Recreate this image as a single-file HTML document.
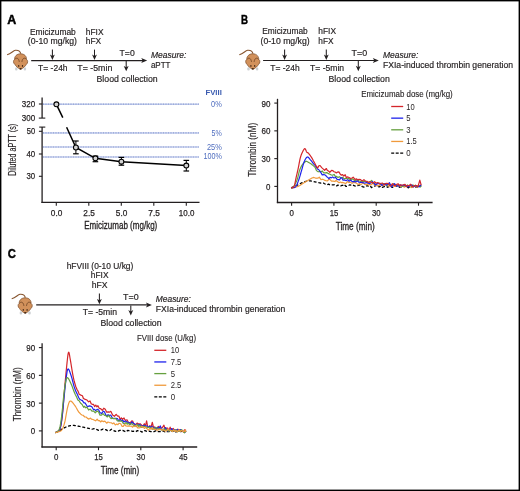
<!DOCTYPE html>
<html><head><meta charset="utf-8"><style>
html,body{margin:0;padding:0;background:#fff;}
body{width:520px;height:491px;overflow:hidden;font-family:"Liberation Sans", sans-serif;}
svg{display:block;will-change:transform;}
</style></head><body>
<svg width="520" height="491" viewBox="0 0 520 491" font-family='"Liberation Sans", sans-serif'>
<rect x="0" y="0" width="520" height="491" fill="#fff"/>
<text x="7.30" y="24.10" font-size="12.4" textLength="9.00" lengthAdjust="spacingAndGlyphs" font-weight="bold" fill="#000" stroke="#000" stroke-width="0.45">A</text>
<g transform="translate(20.40,61.30) scale(1.0)">
<path d="M0.3,-7.6 C0,-9.5 -2,-11.2 -5,-11 C-7.5,-10.6 -9,-7.6 -13.3,-6.6" fill="none" stroke="#87552f" stroke-width="1.1"/>
<ellipse cx="-4.1" cy="7.6" rx="1.3" ry="1.7" fill="#cdd0d2"/>
<ellipse cx="4.5" cy="7.6" rx="1.3" ry="1.7" fill="#cdd0d2"/>
<path d="M0.2,-7.5 C4.3,-7.5 6.3,-4.6 6.1,-1.9 C7.6,-1.2 7.7,1.9 6.0,3.0 C5.0,4.8 2.8,7.0 0.2,8.1 C-2.4,7.0 -4.6,4.8 -5.6,3.0 C-7.3,1.9 -7.3,-1.2 -5.8,-1.9 C-6.0,-4.6 -3.9,-7.5 0.2,-7.5 Z" fill="#d2915b" stroke="#7e4f2c" stroke-width="0.75"/>
<path d="M-5.6,-2.0 C-4.0,-4.0 -1.6,-3.4 -1.1,0.6" fill="none" stroke="#6a4022" stroke-width="0.8"/>
<path d="M6.0,-2.0 C4.4,-4.0 2.0,-3.4 1.5,0.6" fill="none" stroke="#6a4022" stroke-width="0.8"/>
<ellipse cx="-1.7" cy="4.6" rx="0.65" ry="0.85" fill="#3b2413"/>
<ellipse cx="2.1" cy="4.6" rx="0.65" ry="0.85" fill="#3b2413"/>
<ellipse cx="0.2" cy="7.5" rx="1.1" ry="0.7" fill="#3d2616"/>
</g>
<text x="29.90" y="34.50" font-size="8.9" textLength="45.90" lengthAdjust="spacingAndGlyphs" fill="#231f20" stroke="#231f20" stroke-width="0.18">Emicizumab</text>
<text x="27.80" y="44.20" font-size="8.9" textLength="49.20" lengthAdjust="spacingAndGlyphs" fill="#231f20" stroke="#231f20" stroke-width="0.18">(0-10 mg/kg)</text>
<text x="85.80" y="34.50" font-size="8.9" textLength="17.70" lengthAdjust="spacingAndGlyphs" fill="#231f20" stroke="#231f20" stroke-width="0.18">hFIX</text>
<text x="85.80" y="44.20" font-size="8.9" textLength="15.40" lengthAdjust="spacingAndGlyphs" fill="#231f20" stroke="#231f20" stroke-width="0.18">hFX</text>
<line x1="31.20" y1="60.60" x2="143.20" y2="60.60" stroke="#231f20" stroke-width="1.2"/>
<path d="M141.20,58.10 L147.20,60.60 L141.20,63.10 L142.70,60.60 Z" fill="#231f20"/>
<line x1="52.40" y1="49.60" x2="52.40" y2="56.50" stroke="#231f20" stroke-width="1.05"/>
<path d="M49.95,54.60 L52.40,60.00 L54.85,54.60 L52.40,56.00 Z" fill="#231f20"/>
<line x1="94.50" y1="49.60" x2="94.50" y2="56.50" stroke="#231f20" stroke-width="1.05"/>
<path d="M92.05,54.60 L94.50,60.00 L96.95,54.60 L94.50,56.00 Z" fill="#231f20"/>
<line x1="126.20" y1="61.00" x2="126.20" y2="67.80" stroke="#231f20" stroke-width="1.05"/>
<path d="M123.75,65.90 L126.20,71.30 L128.65,65.90 L126.20,67.30 Z" fill="#231f20"/>
<text x="38.10" y="70.80" font-size="8.9" textLength="29.50" lengthAdjust="spacingAndGlyphs" fill="#231f20" stroke="#231f20" stroke-width="0.18">T= -24h</text>
<text x="77.30" y="70.60" font-size="8.9" textLength="35.00" lengthAdjust="spacingAndGlyphs" fill="#231f20" stroke="#231f20" stroke-width="0.18">T= -5min</text>
<text x="119.60" y="55.70" font-size="8.9" textLength="15.10" lengthAdjust="spacingAndGlyphs" fill="#231f20" stroke="#231f20" stroke-width="0.18">T=0</text>
<text x="96.50" y="81.50" font-size="8.9" textLength="61.20" lengthAdjust="spacingAndGlyphs" fill="#231f20" stroke="#231f20" stroke-width="0.18">Blood collection</text>
<text x="150.90" y="58.10" font-size="8.9" textLength="35.40" lengthAdjust="spacingAndGlyphs" font-style="italic" fill="#231f20" stroke="#231f20" stroke-width="0.18">Measure:</text>
<text x="150.90" y="67.90" font-size="8.9" textLength="19.60" lengthAdjust="spacingAndGlyphs" fill="#231f20" stroke="#231f20" stroke-width="0.18">aPTT</text>
<text x="241.00" y="24.20" font-size="12.9" textLength="7.00" lengthAdjust="spacingAndGlyphs" font-weight="bold" fill="#000" stroke="#000" stroke-width="0.45">B</text>
<g transform="translate(252.60,61.30) scale(1.0)">
<path d="M0.3,-7.6 C0,-9.5 -2,-11.2 -5,-11 C-7.5,-10.6 -9,-7.6 -13.3,-6.6" fill="none" stroke="#87552f" stroke-width="1.1"/>
<ellipse cx="-4.1" cy="7.6" rx="1.3" ry="1.7" fill="#cdd0d2"/>
<ellipse cx="4.5" cy="7.6" rx="1.3" ry="1.7" fill="#cdd0d2"/>
<path d="M0.2,-7.5 C4.3,-7.5 6.3,-4.6 6.1,-1.9 C7.6,-1.2 7.7,1.9 6.0,3.0 C5.0,4.8 2.8,7.0 0.2,8.1 C-2.4,7.0 -4.6,4.8 -5.6,3.0 C-7.3,1.9 -7.3,-1.2 -5.8,-1.9 C-6.0,-4.6 -3.9,-7.5 0.2,-7.5 Z" fill="#d2915b" stroke="#7e4f2c" stroke-width="0.75"/>
<path d="M-5.6,-2.0 C-4.0,-4.0 -1.6,-3.4 -1.1,0.6" fill="none" stroke="#6a4022" stroke-width="0.8"/>
<path d="M6.0,-2.0 C4.4,-4.0 2.0,-3.4 1.5,0.6" fill="none" stroke="#6a4022" stroke-width="0.8"/>
<ellipse cx="-1.7" cy="4.6" rx="0.65" ry="0.85" fill="#3b2413"/>
<ellipse cx="2.1" cy="4.6" rx="0.65" ry="0.85" fill="#3b2413"/>
<ellipse cx="0.2" cy="7.5" rx="1.1" ry="0.7" fill="#3d2616"/>
</g>
<text x="262.30" y="34.30" font-size="8.9" textLength="45.40" lengthAdjust="spacingAndGlyphs" fill="#231f20" stroke="#231f20" stroke-width="0.18">Emicizumab</text>
<text x="260.50" y="44.00" font-size="8.9" textLength="49.10" lengthAdjust="spacingAndGlyphs" fill="#231f20" stroke="#231f20" stroke-width="0.18">(0-10 mg/kg)</text>
<text x="318.30" y="34.40" font-size="8.9" textLength="17.70" lengthAdjust="spacingAndGlyphs" fill="#231f20" stroke="#231f20" stroke-width="0.18">hFIX</text>
<text x="318.30" y="44.30" font-size="8.9" textLength="15.20" lengthAdjust="spacingAndGlyphs" fill="#231f20" stroke="#231f20" stroke-width="0.18">hFX</text>
<line x1="263.10" y1="60.50" x2="374.80" y2="60.50" stroke="#231f20" stroke-width="1.2"/>
<path d="M372.80,58.00 L378.80,60.50 L372.80,63.00 L374.30,60.50 Z" fill="#231f20"/>
<line x1="284.60" y1="49.60" x2="284.60" y2="56.50" stroke="#231f20" stroke-width="1.05"/>
<path d="M282.15,54.60 L284.60,60.00 L287.05,54.60 L284.60,56.00 Z" fill="#231f20"/>
<line x1="326.30" y1="49.60" x2="326.30" y2="56.50" stroke="#231f20" stroke-width="1.05"/>
<path d="M323.85,54.60 L326.30,60.00 L328.75,54.60 L326.30,56.00 Z" fill="#231f20"/>
<line x1="358.30" y1="61.00" x2="358.30" y2="67.70" stroke="#231f20" stroke-width="1.05"/>
<path d="M355.85,65.80 L358.30,71.20 L360.75,65.80 L358.30,67.20 Z" fill="#231f20"/>
<text x="270.30" y="71.00" font-size="8.9" textLength="29.40" lengthAdjust="spacingAndGlyphs" fill="#231f20" stroke="#231f20" stroke-width="0.18">T= -24h</text>
<text x="310.00" y="70.90" font-size="8.9" textLength="34.10" lengthAdjust="spacingAndGlyphs" fill="#231f20" stroke="#231f20" stroke-width="0.18">T= -5min</text>
<text x="351.50" y="55.60" font-size="8.9" textLength="15.60" lengthAdjust="spacingAndGlyphs" fill="#231f20" stroke="#231f20" stroke-width="0.18">T=0</text>
<text x="328.50" y="81.70" font-size="8.9" textLength="61.30" lengthAdjust="spacingAndGlyphs" fill="#231f20" stroke="#231f20" stroke-width="0.18">Blood collection</text>
<text x="383.00" y="57.60" font-size="8.9" textLength="35.40" lengthAdjust="spacingAndGlyphs" font-style="italic" fill="#231f20" stroke="#231f20" stroke-width="0.18">Measure:</text>
<text x="383.00" y="68.00" font-size="8.9" textLength="130.00" lengthAdjust="spacingAndGlyphs" fill="#231f20" stroke="#231f20" stroke-width="0.18">FXIa-induced thrombin generation</text>
<text x="7.70" y="257.90" font-size="12.9" textLength="8.10" lengthAdjust="spacingAndGlyphs" font-weight="bold" fill="#000" stroke="#000" stroke-width="0.45">C</text>
<g transform="translate(25.00,305.30) scale(1.0)">
<path d="M0.3,-7.6 C0,-9.5 -2,-11.2 -5,-11 C-7.5,-10.6 -9,-7.6 -13.3,-6.6" fill="none" stroke="#87552f" stroke-width="1.1"/>
<ellipse cx="-4.1" cy="7.6" rx="1.3" ry="1.7" fill="#cdd0d2"/>
<ellipse cx="4.5" cy="7.6" rx="1.3" ry="1.7" fill="#cdd0d2"/>
<path d="M0.2,-7.5 C4.3,-7.5 6.3,-4.6 6.1,-1.9 C7.6,-1.2 7.7,1.9 6.0,3.0 C5.0,4.8 2.8,7.0 0.2,8.1 C-2.4,7.0 -4.6,4.8 -5.6,3.0 C-7.3,1.9 -7.3,-1.2 -5.8,-1.9 C-6.0,-4.6 -3.9,-7.5 0.2,-7.5 Z" fill="#d2915b" stroke="#7e4f2c" stroke-width="0.75"/>
<path d="M-5.6,-2.0 C-4.0,-4.0 -1.6,-3.4 -1.1,0.6" fill="none" stroke="#6a4022" stroke-width="0.8"/>
<path d="M6.0,-2.0 C4.4,-4.0 2.0,-3.4 1.5,0.6" fill="none" stroke="#6a4022" stroke-width="0.8"/>
<ellipse cx="-1.7" cy="4.6" rx="0.65" ry="0.85" fill="#3b2413"/>
<ellipse cx="2.1" cy="4.6" rx="0.65" ry="0.85" fill="#3b2413"/>
<ellipse cx="0.2" cy="7.5" rx="1.1" ry="0.7" fill="#3d2616"/>
</g>
<text x="66.70" y="268.80" font-size="8.9" textLength="66.60" lengthAdjust="spacingAndGlyphs" fill="#231f20" stroke="#231f20" stroke-width="0.18">hFVIII (0-10 U/kg)</text>
<text x="90.80" y="278.40" font-size="8.9" textLength="17.70" lengthAdjust="spacingAndGlyphs" fill="#231f20" stroke="#231f20" stroke-width="0.18">hFIX</text>
<text x="91.70" y="288.20" font-size="8.9" textLength="15.80" lengthAdjust="spacingAndGlyphs" fill="#231f20" stroke="#231f20" stroke-width="0.18">hFX</text>
<line x1="36.20" y1="304.90" x2="147.90" y2="304.90" stroke="#231f20" stroke-width="1.2"/>
<path d="M145.90,302.40 L151.90,304.90 L145.90,307.40 L147.40,304.90 Z" fill="#231f20"/>
<line x1="99.40" y1="293.50" x2="99.40" y2="300.80" stroke="#231f20" stroke-width="1.05"/>
<path d="M96.95,298.90 L99.40,304.30 L101.85,298.90 L99.40,300.30 Z" fill="#231f20"/>
<line x1="130.80" y1="305.50" x2="130.80" y2="312.00" stroke="#231f20" stroke-width="1.05"/>
<path d="M128.35,310.10 L130.80,315.50 L133.25,310.10 L130.80,311.50 Z" fill="#231f20"/>
<text x="123.10" y="300.10" font-size="8.9" textLength="15.60" lengthAdjust="spacingAndGlyphs" fill="#231f20" stroke="#231f20" stroke-width="0.18">T=0</text>
<text x="82.70" y="315.00" font-size="8.9" textLength="34.30" lengthAdjust="spacingAndGlyphs" fill="#231f20" stroke="#231f20" stroke-width="0.18">T= -5min</text>
<text x="100.40" y="326.10" font-size="8.9" textLength="61.20" lengthAdjust="spacingAndGlyphs" fill="#231f20" stroke="#231f20" stroke-width="0.18">Blood collection</text>
<text x="155.80" y="302.30" font-size="8.9" textLength="35.00" lengthAdjust="spacingAndGlyphs" font-style="italic" fill="#231f20" stroke="#231f20" stroke-width="0.18">Measure:</text>
<text x="155.80" y="312.30" font-size="8.9" textLength="129.60" lengthAdjust="spacingAndGlyphs" fill="#231f20" stroke="#231f20" stroke-width="0.18">FXIa-induced thrombin generation</text>
<line x1="42.90" y1="104.20" x2="198.90" y2="104.20" stroke="#c3cdec" stroke-width="1.5"/>
<line x1="42.90" y1="104.20" x2="198.90" y2="104.20" stroke="#8fa1d6" stroke-width="1.2" stroke-dasharray="1.2 1.3"/>
<line x1="42.90" y1="132.90" x2="198.90" y2="132.90" stroke="#c3cdec" stroke-width="1.5"/>
<line x1="42.90" y1="132.90" x2="198.90" y2="132.90" stroke="#8fa1d6" stroke-width="1.2" stroke-dasharray="1.2 1.3"/>
<line x1="42.90" y1="147.00" x2="198.90" y2="147.00" stroke="#c3cdec" stroke-width="1.5"/>
<line x1="42.90" y1="147.00" x2="198.90" y2="147.00" stroke="#8fa1d6" stroke-width="1.2" stroke-dasharray="1.2 1.3"/>
<line x1="42.90" y1="157.00" x2="198.90" y2="157.00" stroke="#c3cdec" stroke-width="1.5"/>
<line x1="42.90" y1="157.00" x2="198.90" y2="157.00" stroke="#8fa1d6" stroke-width="1.2" stroke-dasharray="1.2 1.3"/>
<line x1="42.10" y1="97.60" x2="42.10" y2="118.10" stroke="#231f20" stroke-width="1.3"/>
<line x1="42.10" y1="127.10" x2="42.10" y2="202.90" stroke="#231f20" stroke-width="1.3"/>
<line x1="38.80" y1="118.10" x2="45.30" y2="118.10" stroke="#231f20" stroke-width="1.1"/>
<line x1="39.20" y1="127.10" x2="45.30" y2="127.10" stroke="#231f20" stroke-width="1.1"/>
<line x1="38.90" y1="104.00" x2="42.10" y2="104.00" stroke="#231f20" stroke-width="1.1"/>
<line x1="38.90" y1="131.30" x2="42.10" y2="131.30" stroke="#231f20" stroke-width="1.1"/>
<line x1="38.90" y1="154.00" x2="42.10" y2="154.00" stroke="#231f20" stroke-width="1.1"/>
<line x1="38.90" y1="176.30" x2="42.10" y2="176.30" stroke="#231f20" stroke-width="1.1"/>
<text x="35.20" y="106.70" font-size="9.4" textLength="13.40" lengthAdjust="spacingAndGlyphs" text-anchor="end" fill="#231f20" stroke="#231f20" stroke-width="0.25">320</text>
<text x="35.20" y="120.60" font-size="9.4" textLength="13.40" lengthAdjust="spacingAndGlyphs" text-anchor="end" fill="#231f20" stroke="#231f20" stroke-width="0.25">300</text>
<text x="35.20" y="134.10" font-size="9.4" textLength="8.40" lengthAdjust="spacingAndGlyphs" text-anchor="end" fill="#231f20" stroke="#231f20" stroke-width="0.25">50</text>
<text x="35.20" y="156.80" font-size="9.4" textLength="8.80" lengthAdjust="spacingAndGlyphs" text-anchor="end" fill="#231f20" stroke="#231f20" stroke-width="0.25">40</text>
<text x="35.20" y="179.10" font-size="9.4" textLength="8.70" lengthAdjust="spacingAndGlyphs" text-anchor="end" fill="#231f20" stroke="#231f20" stroke-width="0.25">30</text>
<line x1="41.45" y1="202.30" x2="199.50" y2="202.30" stroke="#231f20" stroke-width="1.3"/>
<line x1="56.30" y1="202.30" x2="56.30" y2="205.70" stroke="#231f20" stroke-width="1.1"/>
<text x="56.60" y="215.80" font-size="9.4" textLength="11.50" lengthAdjust="spacingAndGlyphs" text-anchor="middle" fill="#231f20" stroke="#231f20" stroke-width="0.25">0.0</text>
<line x1="88.80" y1="202.30" x2="88.80" y2="205.70" stroke="#231f20" stroke-width="1.1"/>
<text x="89.10" y="215.80" font-size="9.4" textLength="11.50" lengthAdjust="spacingAndGlyphs" text-anchor="middle" fill="#231f20" stroke="#231f20" stroke-width="0.25">2.5</text>
<line x1="121.30" y1="202.30" x2="121.30" y2="205.70" stroke="#231f20" stroke-width="1.1"/>
<text x="121.60" y="215.80" font-size="9.4" textLength="11.50" lengthAdjust="spacingAndGlyphs" text-anchor="middle" fill="#231f20" stroke="#231f20" stroke-width="0.25">5.0</text>
<line x1="153.80" y1="202.30" x2="153.80" y2="205.70" stroke="#231f20" stroke-width="1.1"/>
<text x="154.10" y="215.80" font-size="9.4" textLength="11.50" lengthAdjust="spacingAndGlyphs" text-anchor="middle" fill="#231f20" stroke="#231f20" stroke-width="0.25">7.5</text>
<line x1="186.30" y1="202.30" x2="186.30" y2="205.70" stroke="#231f20" stroke-width="1.1"/>
<text x="186.60" y="215.80" font-size="9.4" textLength="15.50" lengthAdjust="spacingAndGlyphs" text-anchor="middle" fill="#231f20" stroke="#231f20" stroke-width="0.25">10.0</text>
<text transform="translate(84.20,229.20)" font-size="10.3" textLength="73.10" lengthAdjust="spacingAndGlyphs" fill="#231f20" stroke="#231f20" stroke-width="0.3">Emicizumab (mg/kg)</text>
<text transform="translate(16.20,175.80) rotate(-90)" font-size="10.3" textLength="52.00" lengthAdjust="spacingAndGlyphs" fill="#231f20" stroke="#231f20" stroke-width="0.15">Diluted aPTT (s)</text>
<text x="221.80" y="94.50" font-size="8.1" textLength="16.30" lengthAdjust="spacingAndGlyphs" font-weight="bold" text-anchor="end" fill="#3a5bb0">FVIII</text>
<text x="221.80" y="106.80" font-size="8.7" textLength="10.70" lengthAdjust="spacingAndGlyphs" text-anchor="end" fill="#4f6dbf">0%</text>
<text x="221.80" y="135.90" font-size="8.7" textLength="10.20" lengthAdjust="spacingAndGlyphs" text-anchor="end" fill="#4f6dbf">5%</text>
<text x="221.80" y="149.90" font-size="8.7" textLength="14.80" lengthAdjust="spacingAndGlyphs" text-anchor="end" fill="#4f6dbf">25%</text>
<text x="221.80" y="159.30" font-size="8.7" textLength="18.40" lengthAdjust="spacingAndGlyphs" text-anchor="end" fill="#4f6dbf">100%</text>
<path d="M56.4,104.3 L62.8,117.6 M66.6,127.2 L75.9,147.5 L95.4,158.3 L121.4,161.7 L186.3,165.6" fill="none" stroke="#000" stroke-width="1.5"/>
<line x1="75.90" y1="141.00" x2="75.90" y2="153.80" stroke="#000" stroke-width="1.0"/>
<line x1="73.10" y1="141.00" x2="78.70" y2="141.00" stroke="#000" stroke-width="1.2"/>
<line x1="73.10" y1="153.80" x2="78.70" y2="153.80" stroke="#000" stroke-width="1.2"/>
<line x1="95.40" y1="156.10" x2="95.40" y2="161.70" stroke="#000" stroke-width="1.0"/>
<line x1="92.60" y1="156.10" x2="98.20" y2="156.10" stroke="#000" stroke-width="1.2"/>
<line x1="92.60" y1="161.70" x2="98.20" y2="161.70" stroke="#000" stroke-width="1.2"/>
<line x1="121.40" y1="157.40" x2="121.40" y2="165.20" stroke="#000" stroke-width="1.0"/>
<line x1="118.60" y1="157.40" x2="124.20" y2="157.40" stroke="#000" stroke-width="1.2"/>
<line x1="118.60" y1="165.20" x2="124.20" y2="165.20" stroke="#000" stroke-width="1.2"/>
<line x1="186.30" y1="160.40" x2="186.30" y2="171.00" stroke="#000" stroke-width="1.0"/>
<line x1="183.50" y1="160.40" x2="189.10" y2="160.40" stroke="#000" stroke-width="1.2"/>
<line x1="183.50" y1="171.00" x2="189.10" y2="171.00" stroke="#000" stroke-width="1.2"/>
<circle cx="56.4" cy="104.3" r="2.45" fill="#d2d2d2" stroke="#000" stroke-width="1.1"/>
<circle cx="75.9" cy="147.5" r="2.45" fill="#d2d2d2" stroke="#000" stroke-width="1.1"/>
<circle cx="95.4" cy="158.3" r="2.45" fill="#d2d2d2" stroke="#000" stroke-width="1.1"/>
<circle cx="121.4" cy="161.7" r="2.45" fill="#d2d2d2" stroke="#000" stroke-width="1.1"/>
<circle cx="186.3" cy="165.6" r="2.45" fill="#d2d2d2" stroke="#000" stroke-width="1.1"/>
<line x1="277.50" y1="98.80" x2="277.50" y2="203.10" stroke="#231f20" stroke-width="1.3"/>
<line x1="276.85" y1="202.50" x2="432.60" y2="202.50" stroke="#231f20" stroke-width="1.3"/>
<line x1="274.30" y1="186.40" x2="277.50" y2="186.40" stroke="#231f20" stroke-width="1.1"/>
<text x="270.50" y="189.90" font-size="9.4" textLength="4.40" lengthAdjust="spacingAndGlyphs" text-anchor="end" fill="#231f20" stroke="#231f20" stroke-width="0.25">0</text>
<line x1="274.30" y1="158.63" x2="277.50" y2="158.63" stroke="#231f20" stroke-width="1.1"/>
<text x="270.50" y="162.13" font-size="9.4" textLength="8.90" lengthAdjust="spacingAndGlyphs" text-anchor="end" fill="#231f20" stroke="#231f20" stroke-width="0.25">30</text>
<line x1="274.30" y1="130.86" x2="277.50" y2="130.86" stroke="#231f20" stroke-width="1.1"/>
<text x="270.50" y="134.36" font-size="9.4" textLength="8.90" lengthAdjust="spacingAndGlyphs" text-anchor="end" fill="#231f20" stroke="#231f20" stroke-width="0.25">60</text>
<line x1="274.30" y1="103.09" x2="277.50" y2="103.09" stroke="#231f20" stroke-width="1.1"/>
<text x="270.50" y="106.59" font-size="9.4" textLength="8.90" lengthAdjust="spacingAndGlyphs" text-anchor="end" fill="#231f20" stroke="#231f20" stroke-width="0.25">90</text>
<line x1="291.60" y1="202.50" x2="291.60" y2="205.70" stroke="#231f20" stroke-width="1.1"/>
<text x="291.70" y="215.80" font-size="9.4" textLength="4.40" lengthAdjust="spacingAndGlyphs" text-anchor="middle" fill="#231f20" stroke="#231f20" stroke-width="0.25">0</text>
<line x1="333.90" y1="202.50" x2="333.90" y2="205.70" stroke="#231f20" stroke-width="1.1"/>
<text x="334.00" y="215.80" font-size="9.4" textLength="8.60" lengthAdjust="spacingAndGlyphs" text-anchor="middle" fill="#231f20" stroke="#231f20" stroke-width="0.25">15</text>
<line x1="376.20" y1="202.50" x2="376.20" y2="205.70" stroke="#231f20" stroke-width="1.1"/>
<text x="376.30" y="215.80" font-size="9.4" textLength="8.60" lengthAdjust="spacingAndGlyphs" text-anchor="middle" fill="#231f20" stroke="#231f20" stroke-width="0.25">30</text>
<line x1="418.50" y1="202.50" x2="418.50" y2="205.70" stroke="#231f20" stroke-width="1.1"/>
<text x="418.60" y="215.80" font-size="9.4" textLength="8.60" lengthAdjust="spacingAndGlyphs" text-anchor="middle" fill="#231f20" stroke="#231f20" stroke-width="0.25">45</text>
<text transform="translate(335.70,229.50)" font-size="10.3" textLength="39.00" lengthAdjust="spacingAndGlyphs" fill="#231f20" stroke="#231f20" stroke-width="0.3">Time (min)</text>
<text transform="translate(256.00,176.80) rotate(-90)" font-size="10.5" textLength="54.00" lengthAdjust="spacingAndGlyphs" fill="#231f20" stroke="#231f20" stroke-width="0.15">Thrombin (nM)</text>
<text x="361.20" y="97.10" font-size="8.2" textLength="91.50" lengthAdjust="spacingAndGlyphs" fill="#231f20" stroke="#231f20" stroke-width="0.12">Emicizumab dose (mg/kg)</text>
<line x1="391.20" y1="106.50" x2="403.20" y2="106.50" stroke="#d4262b" stroke-width="1.3"/>
<text x="406.20" y="109.50" font-size="8.6" textLength="8.40" lengthAdjust="spacingAndGlyphs" fill="#231f20">10</text>
<line x1="391.20" y1="118.15" x2="403.20" y2="118.15" stroke="#1e22ec" stroke-width="1.3"/>
<text x="406.20" y="121.15" font-size="8.6" textLength="4.30" lengthAdjust="spacingAndGlyphs" fill="#231f20">5</text>
<line x1="391.20" y1="129.80" x2="403.20" y2="129.80" stroke="#66a03f" stroke-width="1.3"/>
<text x="406.20" y="132.80" font-size="8.6" textLength="4.30" lengthAdjust="spacingAndGlyphs" fill="#231f20">3</text>
<line x1="391.20" y1="141.45" x2="403.20" y2="141.45" stroke="#f09a3c" stroke-width="1.3"/>
<text x="406.20" y="144.45" font-size="8.6" textLength="10.50" lengthAdjust="spacingAndGlyphs" fill="#231f20">1.5</text>
<line x1="391.20" y1="153.10" x2="403.20" y2="153.10" stroke="#000" stroke-width="1.4" stroke-dasharray="3 1.5"/>
<text x="406.20" y="156.10" font-size="8.6" textLength="4.40" lengthAdjust="spacingAndGlyphs" fill="#231f20">0</text>
<line x1="42.10" y1="343.30" x2="42.10" y2="447.60" stroke="#231f20" stroke-width="1.3"/>
<line x1="41.45" y1="447.00" x2="197.20" y2="447.00" stroke="#231f20" stroke-width="1.3"/>
<line x1="38.90" y1="430.90" x2="42.10" y2="430.90" stroke="#231f20" stroke-width="1.1"/>
<text x="35.10" y="434.40" font-size="9.4" textLength="4.40" lengthAdjust="spacingAndGlyphs" text-anchor="end" fill="#231f20" stroke="#231f20" stroke-width="0.25">0</text>
<line x1="38.90" y1="403.13" x2="42.10" y2="403.13" stroke="#231f20" stroke-width="1.1"/>
<text x="35.10" y="406.63" font-size="9.4" textLength="8.90" lengthAdjust="spacingAndGlyphs" text-anchor="end" fill="#231f20" stroke="#231f20" stroke-width="0.25">30</text>
<line x1="38.90" y1="375.36" x2="42.10" y2="375.36" stroke="#231f20" stroke-width="1.1"/>
<text x="35.10" y="378.86" font-size="9.4" textLength="8.90" lengthAdjust="spacingAndGlyphs" text-anchor="end" fill="#231f20" stroke="#231f20" stroke-width="0.25">60</text>
<line x1="38.90" y1="347.59" x2="42.10" y2="347.59" stroke="#231f20" stroke-width="1.1"/>
<text x="35.10" y="351.09" font-size="9.4" textLength="8.90" lengthAdjust="spacingAndGlyphs" text-anchor="end" fill="#231f20" stroke="#231f20" stroke-width="0.25">90</text>
<line x1="56.20" y1="447.00" x2="56.20" y2="450.20" stroke="#231f20" stroke-width="1.1"/>
<text x="56.30" y="460.30" font-size="9.4" textLength="4.40" lengthAdjust="spacingAndGlyphs" text-anchor="middle" fill="#231f20" stroke="#231f20" stroke-width="0.25">0</text>
<line x1="98.50" y1="447.00" x2="98.50" y2="450.20" stroke="#231f20" stroke-width="1.1"/>
<text x="98.60" y="460.30" font-size="9.4" textLength="8.60" lengthAdjust="spacingAndGlyphs" text-anchor="middle" fill="#231f20" stroke="#231f20" stroke-width="0.25">15</text>
<line x1="140.80" y1="447.00" x2="140.80" y2="450.20" stroke="#231f20" stroke-width="1.1"/>
<text x="140.90" y="460.30" font-size="9.4" textLength="8.60" lengthAdjust="spacingAndGlyphs" text-anchor="middle" fill="#231f20" stroke="#231f20" stroke-width="0.25">30</text>
<line x1="183.10" y1="447.00" x2="183.10" y2="450.20" stroke="#231f20" stroke-width="1.1"/>
<text x="183.20" y="460.30" font-size="9.4" textLength="8.60" lengthAdjust="spacingAndGlyphs" text-anchor="middle" fill="#231f20" stroke="#231f20" stroke-width="0.25">45</text>
<text transform="translate(100.80,474.00)" font-size="10.3" textLength="38.40" lengthAdjust="spacingAndGlyphs" fill="#231f20" stroke="#231f20" stroke-width="0.3">Time (min)</text>
<text transform="translate(20.60,421.30) rotate(-90)" font-size="10.5" textLength="54.00" lengthAdjust="spacingAndGlyphs" fill="#231f20" stroke="#231f20" stroke-width="0.15">Thrombin (nM)</text>
<text x="136.90" y="340.90" font-size="8.2" textLength="59.10" lengthAdjust="spacingAndGlyphs" fill="#231f20" stroke="#231f20" stroke-width="0.12">FVIII dose (U/kg)</text>
<line x1="154.30" y1="350.30" x2="166.30" y2="350.30" stroke="#d4262b" stroke-width="1.3"/>
<text x="170.70" y="353.30" font-size="8.6" textLength="8.40" lengthAdjust="spacingAndGlyphs" fill="#231f20">10</text>
<line x1="154.30" y1="361.95" x2="166.30" y2="361.95" stroke="#1e22ec" stroke-width="1.3"/>
<text x="170.70" y="364.95" font-size="8.6" textLength="10.70" lengthAdjust="spacingAndGlyphs" fill="#231f20">7.5</text>
<line x1="154.30" y1="373.60" x2="166.30" y2="373.60" stroke="#66a03f" stroke-width="1.3"/>
<text x="170.70" y="376.60" font-size="8.6" textLength="4.30" lengthAdjust="spacingAndGlyphs" fill="#231f20">5</text>
<line x1="154.30" y1="385.25" x2="166.30" y2="385.25" stroke="#f09a3c" stroke-width="1.3"/>
<text x="170.70" y="388.25" font-size="8.6" textLength="10.70" lengthAdjust="spacingAndGlyphs" fill="#231f20">2.5</text>
<line x1="154.30" y1="396.90" x2="166.30" y2="396.90" stroke="#000" stroke-width="1.4" stroke-dasharray="3 1.5"/>
<text x="170.70" y="399.90" font-size="8.6" textLength="4.40" lengthAdjust="spacingAndGlyphs" fill="#231f20">0</text>
<path d="M291.10,187.80 L291.40,187.67 L291.70,187.54 L292.00,187.41 L292.30,187.28 L292.60,187.15 L292.90,187.02 L293.20,186.89 L293.50,186.77 L293.80,186.64 L294.10,186.51 L294.40,186.38 L294.70,186.25 L295.00,186.12 L295.30,185.99 L295.60,185.86 L295.90,185.72 L296.20,185.59 L296.50,185.46 L296.80,185.33 L297.10,185.20 L297.40,185.06 L297.70,184.93 L298.00,184.79 L298.30,184.65 L298.60,184.51 L298.90,184.36 L299.20,184.21 L299.50,184.05 L299.80,183.89 L300.10,183.73 L300.40,183.56 L300.70,183.40 L301.00,183.24 L301.30,183.08 L301.60,182.92 L301.90,182.78 L302.20,182.64 L302.50,182.51 L302.80,182.38 L303.10,182.27 L303.40,182.17 L303.70,182.07 L304.00,181.97 L304.30,181.87 L304.60,181.77 L304.90,181.68 L305.20,181.59 L305.50,181.50 L305.80,181.42 L306.10,181.34 L306.40,181.27 L306.70,181.21 L307.00,181.15 L307.30,181.09 L307.60,181.04 L307.90,181.00 L308.20,180.97 L308.50,180.94 L308.80,180.92 L309.10,180.91 L309.40,180.90 L309.70,180.91 L310.00,180.92 L310.30,180.94 L310.60,180.97 L310.90,181.01 L311.20,181.05 L311.50,181.10 L311.80,181.16 L312.10,181.22 L312.40,181.28 L312.70,181.35 L313.00,181.41 L313.30,181.48 L313.60,181.56 L313.90,181.63 L314.20,181.70 L314.50,181.77 L314.80,181.84 L315.10,181.91 L315.40,181.97 L315.70,182.04 L316.00,182.10 L316.30,182.16 L316.60,182.22 L316.90,182.28 L317.20,182.34 L317.50,182.40 L317.80,182.46 L318.10,182.52 L318.40,182.59 L318.70,182.65 L319.00,182.72 L319.30,182.78 L319.60,182.84 L319.90,182.91 L320.20,182.98 L321.73,183.38 L323.46,183.07 L324.54,183.74 L325.91,184.35 L327.10,184.94 L328.53,184.09 L330.00,184.87 L330.99,184.89 L332.15,184.82 L333.36,184.82 L335.11,184.66 L336.74,185.90 L337.85,185.06 L339.50,185.56 L340.60,185.91 L342.10,185.30 L343.18,185.27 L344.16,184.41 L345.88,186.27 L347.03,186.32 L348.19,185.68 L350.00,184.73 L351.71,185.55 L352.93,185.13 L354.72,185.95 L356.16,186.25 L357.70,185.70 L358.86,185.03 L360.63,185.04 L362.19,186.51 L363.98,187.04 L365.71,186.40 L366.94,185.71 L368.22,186.05 L369.34,185.43 L370.45,186.04 L371.48,187.58 L372.71,186.99 L374.20,186.23 L375.18,185.25 L376.73,186.72 L378.00,186.52 L379.24,186.80 L380.90,186.12 L382.29,187.28 L383.53,186.95 L384.92,186.46 L386.49,186.29 L387.52,187.26 L389.32,186.59 L390.32,185.93 L391.93,187.30 L393.62,187.25 L394.61,185.90 L396.25,186.21 L397.54,186.51 L399.01,187.35 L399.99,186.65 L401.01,187.08 L402.14,186.66 L403.93,186.23 L405.07,185.54 L406.69,187.03 L408.45,187.78 L410.22,186.43 L411.49,185.31 L412.77,186.57 L414.19,186.59 L415.82,187.17 L416.89,186.84 L418.50,187.03 L420.15,185.49 L421.20,185.82" fill="none" stroke="#000" stroke-width="1.3" stroke-linejoin="round" stroke-dasharray="3 1.8"/>
<path d="M291.10,188.30 L291.40,188.22 L291.70,188.14 L292.00,188.07 L292.30,188.00 L292.60,187.92 L292.90,187.85 L293.20,187.78 L293.50,187.70 L293.80,187.63 L294.10,187.55 L294.40,187.48 L294.70,187.40 L295.00,187.32 L295.30,187.24 L295.60,187.15 L295.90,187.07 L296.20,186.98 L296.50,186.89 L296.80,186.80 L297.10,186.70 L297.40,186.60 L297.70,186.49 L298.00,186.38 L298.30,186.26 L298.60,186.12 L298.90,185.98 L299.20,185.83 L299.50,185.66 L299.80,185.49 L300.10,185.31 L300.40,185.13 L300.70,184.93 L301.00,184.73 L301.30,184.53 L301.60,184.32 L301.90,184.12 L302.20,183.91 L302.50,183.71 L302.80,183.51 L303.10,183.33 L303.40,183.14 L303.70,182.95 L304.00,182.77 L304.30,182.58 L304.60,182.40 L304.90,182.21 L305.20,182.02 L305.50,181.83 L305.80,181.65 L306.10,181.46 L306.40,181.28 L306.70,181.09 L307.00,180.91 L307.30,180.73 L307.60,180.56 L307.90,180.38 L308.20,180.21 L308.50,180.04 L308.80,179.87 L309.10,179.70 L309.40,179.52 L309.70,179.33 L310.00,179.15 L310.30,178.97 L310.60,178.80 L310.90,178.62 L311.20,178.46 L311.50,178.30 L311.80,178.16 L312.10,178.02 L313.27,177.44 L314.70,177.78 L315.91,178.30 L317.03,177.97 L318.10,178.14 L319.26,177.21 L321.02,179.60 L322.70,179.21 L324.36,180.08 L326.01,180.77 L327.15,180.93 L328.39,179.83 L329.90,179.30 L331.49,181.20 L333.19,181.10 L334.91,181.53 L335.96,180.53 L337.45,181.49 L339.00,182.68 L340.40,182.00 L341.53,182.60 L342.91,182.46 L343.96,182.88 L345.73,183.56 L347.44,181.55 L348.88,182.64 L350.11,181.87 L351.85,183.37 L353.31,182.55 L355.03,182.54 L356.73,183.35 L358.13,184.64 L359.46,183.52 L360.94,184.63 L362.29,183.39 L363.40,182.80 L364.64,184.38 L366.30,184.76 L367.32,183.77 L368.34,185.32 L369.84,184.35 L371.06,184.93 L372.49,183.53 L373.86,184.02 L375.13,185.71 L376.95,184.93 L378.09,185.91 L379.42,185.41 L380.57,184.08 L382.08,185.91 L383.29,184.87 L384.57,185.05 L386.18,184.44 L387.43,185.49 L388.88,186.31 L390.62,184.70 L391.68,185.99 L392.71,186.03 L393.89,186.14 L395.51,186.49 L397.01,184.59 L398.18,185.91 L399.44,185.53 L400.57,186.56 L401.94,185.22 L402.95,186.39 L404.52,187.24 L406.25,185.50 L408.03,185.58 L409.63,186.67 L411.42,187.56 L412.41,186.99 L413.64,185.22 L415.43,186.35 L417.06,187.31 L418.38,186.10 L420.16,186.65 L421.20,186.19" fill="none" stroke="#f09a3c" stroke-width="1.2" stroke-linejoin="round"/>
<path d="M291.10,187.80 L291.40,187.79 L291.70,187.83 L292.00,187.83 L292.30,187.77 L292.60,187.64 L292.90,187.43 L293.20,187.12 L293.50,186.72 L293.80,186.28 L294.10,185.82 L294.40,185.33 L294.70,184.82 L295.00,184.29 L295.30,183.73 L295.60,183.15 L295.90,182.55 L296.20,181.91 L296.50,181.23 L296.80,180.51 L297.10,179.71 L297.40,178.80 L297.70,177.75 L298.00,176.60 L298.30,175.35 L298.60,174.08 L298.90,172.82 L299.20,171.65 L299.50,170.62 L299.80,169.73 L300.10,168.94 L300.40,168.21 L300.70,167.55 L301.00,166.94 L301.30,166.38 L301.60,165.86 L301.90,165.38 L302.20,164.93 L302.50,164.50 L302.80,164.10 L303.10,163.73 L303.40,163.38 L303.70,163.06 L304.00,162.76 L304.30,162.49 L304.60,162.23 L304.90,162.01 L305.20,161.80 L305.50,161.63 L305.80,161.50 L306.10,161.42 L306.40,161.39 L306.70,161.43 L307.00,161.53 L307.30,161.67 L307.60,161.84 L307.90,162.02 L308.20,162.19 L308.50,162.35 L308.80,162.52 L309.10,162.68 L309.40,162.86 L309.70,163.04 L310.00,163.23 L310.30,163.42 L310.60,163.61 L310.90,163.81 L311.20,164.02 L311.50,164.23 L311.80,164.45 L312.10,164.66 L313.28,165.60 L315.09,167.34 L316.47,170.62 L318.15,171.78 L319.53,171.46 L321.05,171.64 L322.15,170.94 L323.67,172.83 L325.38,172.86 L326.80,172.56 L328.40,173.64 L329.94,174.20 L330.98,174.82 L332.59,175.25 L334.07,174.44 L335.30,176.38 L336.31,176.25 L338.02,177.41 L339.39,176.66 L340.98,177.86 L342.70,177.26 L344.28,179.07 L346.03,178.13 L347.34,178.74 L348.99,178.43 L350.35,179.98 L352.11,178.86 L353.83,179.55 L354.89,181.07 L355.99,180.20 L357.15,179.66 L358.94,180.75 L360.29,181.31 L361.79,182.12 L363.03,181.39 L364.43,181.28 L365.74,181.41 L367.01,182.06 L368.48,182.53 L369.95,181.91 L371.69,180.41 L373.25,183.26 L375.01,183.99 L376.71,183.83 L378.52,182.98 L380.06,183.56 L381.18,184.55 L382.88,183.50 L384.67,184.25 L386.41,185.34 L387.87,184.81 L389.45,183.98 L390.61,185.25 L392.29,185.74 L393.75,183.67 L394.97,185.17 L396.00,185.39 L397.70,186.01 L399.51,185.09 L400.56,185.69 L402.22,186.28 L403.54,186.05 L404.65,184.88 L405.87,186.04 L407.50,184.99 L409.21,186.21 L410.23,185.29 L411.73,186.58 L412.74,185.07 L414.33,186.13 L415.59,185.31 L417.31,186.27 L419.11,186.44 L420.51,186.82 L421.20,185.98" fill="none" stroke="#66a03f" stroke-width="1.2" stroke-linejoin="round"/>
<path d="M291.10,187.80 L291.40,187.77 L291.70,187.76 L292.00,187.76 L292.30,187.75 L292.60,187.75 L292.90,187.74 L293.20,187.71 L293.50,187.68 L293.80,187.63 L294.10,187.56 L294.40,187.46 L294.70,187.35 L295.00,187.19 L295.30,186.97 L295.60,186.68 L295.90,186.33 L296.20,185.89 L296.50,185.38 L296.80,184.80 L297.10,184.16 L297.40,183.45 L297.70,182.70 L298.00,181.90 L298.30,181.09 L298.60,180.27 L298.90,179.43 L299.20,178.54 L299.50,177.60 L299.80,176.61 L300.10,175.58 L300.40,174.53 L300.70,173.47 L301.00,172.41 L301.30,171.36 L301.60,170.34 L301.90,169.32 L302.20,168.28 L302.50,167.20 L302.80,166.12 L303.10,165.06 L303.40,164.05 L303.70,163.11 L304.00,162.25 L304.30,161.50 L304.60,160.82 L304.90,160.17 L305.20,159.56 L305.50,159.00 L305.80,158.50 L306.10,158.05 L306.40,157.67 L306.70,157.36 L307.00,157.13 L307.30,157.00 L307.60,156.97 L307.90,157.06 L308.20,157.24 L308.50,157.50 L308.80,157.82 L309.10,158.19 L309.40,158.57 L309.70,158.96 L310.00,159.33 L310.30,159.68 L310.60,160.03 L310.90,160.37 L311.20,160.73 L311.50,161.09 L311.80,161.47 L312.10,161.84 L313.59,163.90 L315.06,165.38 L316.17,166.80 L317.51,169.08 L318.82,169.75 L320.41,171.78 L322.23,174.91 L324.00,174.54 L325.44,175.23 L326.79,176.67 L328.00,177.64 L329.01,178.76 L330.01,177.38 L331.38,177.90 L332.63,176.89 L333.93,177.99 L335.66,177.46 L337.08,179.38 L338.53,179.56 L339.71,179.86 L340.71,177.80 L341.96,177.96 L343.06,180.14 L344.47,180.00 L346.29,180.59 L347.83,179.69 L348.97,181.26 L350.70,180.12 L352.34,181.77 L353.94,181.40 L355.68,181.90 L357.30,180.83 L358.95,182.23 L360.22,182.28 L362.03,182.46 L363.82,182.94 L364.93,183.11 L366.55,182.49 L368.13,183.19 L369.49,183.68 L370.92,182.85 L372.31,181.73 L374.07,183.13 L375.47,185.06 L377.15,183.68 L378.42,183.57 L380.15,183.47 L381.88,185.42 L383.25,184.45 L384.71,183.73 L386.46,185.11 L388.05,183.90 L389.44,182.72 L390.60,185.31 L391.85,186.75 L393.42,184.52 L394.54,183.75 L396.28,185.89 L397.49,185.74 L399.24,186.05 L400.48,184.75 L402.26,185.71 L403.83,184.76 L405.24,185.55 L406.65,185.83 L408.18,186.85 L409.65,185.70 L410.89,185.32 L412.05,185.10 L413.46,186.95 L415.22,185.61 L416.73,185.91 L417.77,186.56 L419.44,186.70 L421.03,185.10 L421.20,185.06" fill="none" stroke="#1e22ec" stroke-width="1.2" stroke-linejoin="round"/>
<path d="M291.10,187.80 L291.40,187.73 L291.70,187.70 L292.00,187.67 L292.30,187.62 L292.60,187.56 L292.90,187.46 L293.20,187.31 L293.50,187.10 L293.80,186.78 L294.10,186.30 L294.40,185.54 L294.70,184.50 L295.00,183.20 L295.30,181.68 L295.60,180.07 L295.90,178.52 L296.20,177.17 L296.50,175.87 L296.80,174.59 L297.10,173.30 L297.40,172.00 L297.70,170.68 L298.00,169.33 L298.30,167.91 L298.60,166.40 L298.90,164.79 L299.20,163.16 L299.50,161.56 L299.80,160.05 L300.10,158.72 L300.40,157.54 L300.70,156.51 L301.00,155.58 L301.30,154.76 L301.60,154.03 L301.90,153.35 L302.20,152.70 L302.50,152.06 L302.80,151.44 L303.10,150.83 L303.40,150.26 L303.70,149.74 L304.00,149.28 L304.30,148.91 L304.60,148.68 L304.90,148.63 L305.20,148.83 L305.50,149.28 L305.80,149.93 L306.10,150.69 L306.40,151.44 L306.70,152.04 L307.00,152.41 L307.30,152.56 L307.60,152.59 L307.90,152.73 L308.20,152.98 L308.50,153.32 L308.80,153.68 L309.10,154.06 L309.40,154.44 L309.70,154.83 L310.00,155.23 L310.30,155.63 L310.60,156.05 L310.90,156.48 L311.20,156.92 L311.50,157.36 L311.80,157.83 L312.10,158.31 L313.10,160.26 L314.79,163.25 L316.13,165.95 L317.75,168.06 L318.73,165.94 L320.09,165.49 L321.67,167.57 L322.84,168.67 L324.62,170.27 L326.36,168.53 L327.36,170.46 L328.36,170.81 L329.80,172.25 L331.57,170.41 L332.87,170.58 L334.03,171.77 L335.36,172.10 L336.37,172.98 L337.53,172.05 L338.88,171.92 L340.28,174.18 L341.45,175.18 L342.63,174.53 L343.79,176.14 L345.16,174.75 L346.38,177.64 L347.38,176.87 L349.06,177.51 L350.51,178.41 L352.03,177.99 L353.17,177.12 L354.98,179.35 L356.68,178.85 L357.76,179.96 L359.02,179.26 L360.61,179.67 L362.19,180.98 L363.95,179.65 L365.29,180.97 L366.96,181.30 L368.51,182.46 L369.74,181.73 L371.22,182.15 L372.94,183.14 L374.63,181.74 L376.03,183.19 L377.51,182.57 L378.52,182.95 L379.70,183.79 L381.35,183.26 L382.68,183.22 L383.80,184.99 L385.24,183.67 L386.81,183.38 L388.36,183.51 L389.66,185.53 L391.00,185.75 L392.41,183.69 L394.05,185.38 L395.46,185.76 L396.77,184.37 L398.16,183.70 L399.17,185.67 L400.19,184.96 L401.76,185.28 L403.56,184.92 L405.04,184.26 L406.35,186.84 L407.47,185.39 L408.88,185.74 L410.68,184.26 L412.31,186.88 L413.74,186.43 L415.44,185.28 L416.62,185.81 L418.03,186.48 L419.81,180.19 L421.20,185.13" fill="none" stroke="#d4262b" stroke-width="1.2" stroke-linejoin="round"/>
<path d="M55.30,432.70 L55.60,432.57 L55.90,432.44 L56.20,432.31 L56.50,432.18 L56.80,432.05 L57.10,431.92 L57.40,431.78 L57.70,431.65 L58.00,431.50 L58.30,431.36 L58.60,431.21 L58.90,431.05 L59.20,430.89 L59.50,430.71 L59.80,430.52 L60.10,430.33 L60.40,430.13 L60.70,429.93 L61.00,429.73 L61.30,429.53 L61.60,429.33 L61.90,429.14 L62.20,428.95 L62.50,428.78 L62.80,428.61 L63.10,428.45 L63.40,428.29 L63.70,428.14 L64.00,427.99 L64.30,427.84 L64.60,427.69 L64.90,427.55 L65.20,427.41 L65.50,427.27 L65.80,427.14 L66.10,427.01 L66.40,426.88 L66.70,426.76 L67.00,426.64 L67.30,426.54 L67.60,426.43 L67.90,426.33 L68.20,426.24 L68.50,426.15 L68.80,426.06 L69.10,425.97 L69.40,425.89 L69.70,425.81 L70.00,425.74 L70.30,425.67 L70.60,425.61 L70.90,425.56 L71.20,425.52 L71.50,425.48 L71.80,425.45 L72.10,425.42 L72.40,425.41 L72.70,425.40 L73.00,425.40 L73.30,425.41 L73.60,425.42 L73.90,425.44 L74.20,425.46 L74.50,425.49 L74.80,425.53 L75.10,425.57 L75.40,425.62 L75.70,425.67 L76.00,425.72 L76.30,425.77 L76.60,425.83 L76.90,425.89 L77.20,425.95 L77.50,426.00 L77.80,426.06 L78.10,426.13 L78.40,426.19 L78.70,426.25 L79.00,426.31 L79.30,426.36 L79.60,426.42 L79.90,426.48 L80.20,426.54 L80.50,426.60 L80.80,426.66 L81.10,426.72 L81.40,426.78 L81.70,426.85 L82.00,426.91 L82.30,426.98 L82.60,427.04 L82.90,427.11 L83.20,427.17 L83.50,427.24 L83.80,427.31 L84.10,427.37 L84.40,427.44 L84.70,427.51 L85.00,427.57 L85.30,427.64 L85.60,427.71 L85.90,427.77 L86.20,427.84 L86.50,427.91 L86.80,427.97 L87.10,428.04 L87.40,428.10 L87.70,428.17 L88.00,428.23 L88.30,428.30 L88.60,428.36 L88.90,428.42 L89.20,428.48 L89.50,428.54 L89.80,428.60 L90.10,428.67 L91.92,429.22 L93.10,428.97 L94.37,428.59 L95.94,429.30 L97.16,429.54 L98.36,430.40 L99.53,429.90 L101.23,429.83 L102.94,429.06 L104.59,429.68 L105.76,429.59 L107.52,430.65 L108.93,430.82 L110.10,430.34 L111.47,429.22 L112.80,430.01 L113.84,430.70 L115.30,431.38 L116.58,430.84 L118.04,431.10 L119.80,430.29 L121.32,430.47 L122.64,430.30 L124.35,431.20 L126.16,431.85 L127.56,430.49 L129.33,430.64 L130.33,430.48 L131.42,430.97 L132.55,431.29 L134.32,431.24 L135.88,431.65 L137.46,430.57 L138.68,430.90 L140.08,430.78 L141.80,432.10 L142.87,431.59 L143.94,431.52 L144.96,430.56 L146.34,431.18 L148.02,431.58 L149.47,431.23 L150.79,431.62 L152.19,431.69 L153.32,431.85 L155.10,431.11 L156.37,430.71 L157.55,431.63 L158.79,431.54 L160.46,431.47 L161.71,431.54 L163.45,430.96 L164.71,431.81 L166.07,431.16 L167.11,431.57 L168.85,431.28 L170.50,431.89 L171.88,430.93 L172.95,430.92 L174.35,431.23 L175.64,432.09 L177.33,431.26 L179.09,430.93 L180.69,431.65 L181.91,431.47 L182.93,431.34 L184.66,431.04 L186.00,431.80" fill="none" stroke="#000" stroke-width="1.3" stroke-linejoin="round" stroke-dasharray="3 1.8"/>
<path d="M55.30,432.70 L55.60,432.54 L55.90,432.39 L56.20,432.24 L56.50,432.10 L56.80,431.95 L57.10,431.78 L57.40,431.61 L57.70,431.43 L58.00,431.22 L58.30,430.99 L58.60,430.71 L58.90,430.38 L59.20,430.01 L59.50,429.61 L59.80,429.12 L60.10,428.49 L60.40,427.60 L60.70,426.43 L61.00,425.02 L61.30,423.33 L61.60,421.38 L61.90,419.17 L62.20,416.68 L62.50,413.95 L62.80,410.93 L63.10,407.45 L63.40,403.66 L63.70,399.74 L64.00,395.86 L64.30,392.18 L64.60,388.70 L64.90,385.26 L65.20,381.84 L65.50,378.47 L65.80,375.19 L66.10,372.00 L66.40,368.94 L66.70,366.04 L67.00,363.12 L67.30,360.21 L67.60,357.48 L67.90,355.13 L68.20,353.36 L68.50,352.30 L68.80,352.19 L69.10,352.93 L69.40,354.37 L69.70,356.18 L70.00,358.01 L70.30,359.70 L70.60,361.36 L70.90,363.14 L71.20,364.99 L71.50,366.86 L71.80,368.74 L72.10,370.58 L72.40,372.38 L72.70,374.09 L73.00,375.68 L73.30,377.17 L73.60,378.60 L73.90,379.98 L74.20,381.30 L75.85,386.70 L76.91,389.32 L78.14,391.33 L79.20,394.25 L80.86,395.11 L82.42,395.75 L83.43,398.42 L85.24,399.37 L87.03,400.03 L88.56,401.82 L90.06,400.97 L91.17,403.79 L92.16,404.31 L93.58,404.46 L94.61,406.61 L95.75,405.01 L96.94,406.85 L97.94,405.72 L99.31,408.48 L100.66,408.69 L102.35,410.29 L103.77,408.23 L105.28,409.28 L106.68,412.14 L108.22,411.95 L109.58,412.13 L110.80,411.26 L112.62,415.02 L114.43,416.26 L116.12,414.31 L117.69,416.10 L118.94,416.20 L120.11,419.31 L121.33,417.76 L122.37,419.46 L124.00,417.93 L125.31,420.49 L127.00,419.76 L128.31,422.29 L130.09,422.80 L131.78,420.91 L132.77,421.16 L133.92,424.05 L135.67,424.90 L137.04,423.07 L138.84,424.12 L140.16,423.78 L141.20,424.64 L142.71,426.23 L144.34,423.73 L145.55,425.71 L146.60,420.94 L147.86,427.66 L149.65,425.81 L151.27,426.37 L152.35,422.27 L153.53,427.61 L154.60,426.91 L155.63,427.99 L157.28,427.98 L158.41,426.38 L159.86,428.83 L161.21,427.78 L162.35,427.59 L163.95,425.14 L165.04,429.19 L166.56,427.99 L167.64,428.12 L168.97,430.93 L170.13,427.15 L171.34,430.03 L173.13,428.42 L174.79,430.94 L176.02,429.98 L177.75,429.38 L178.90,429.64 L180.21,430.18 L181.91,430.60 L183.43,431.97 L184.49,429.84 L186.00,430.36" fill="none" stroke="#d4262b" stroke-width="1.2" stroke-linejoin="round"/>
<path d="M55.30,432.70 L55.60,432.56 L55.90,432.43 L56.20,432.30 L56.50,432.18 L56.80,432.04 L57.10,431.90 L57.40,431.73 L57.70,431.56 L58.00,431.35 L58.30,431.11 L58.60,430.80 L58.90,430.43 L59.20,430.03 L59.50,429.57 L59.80,428.96 L60.10,428.16 L60.40,427.13 L60.70,425.83 L61.00,424.28 L61.30,422.45 L61.60,420.38 L61.90,418.10 L62.20,415.67 L62.50,413.12 L62.80,410.34 L63.10,407.32 L63.40,404.20 L63.70,401.04 L64.00,397.95 L64.30,395.00 L64.60,392.12 L64.90,389.20 L65.20,386.33 L65.50,383.53 L65.80,380.89 L66.10,378.46 L66.40,376.30 L66.70,374.15 L67.00,372.11 L67.30,370.51 L67.60,369.52 L67.90,369.02 L68.20,368.93 L68.50,369.13 L68.80,369.55 L69.10,370.11 L69.40,370.79 L69.70,371.54 L70.00,372.36 L70.30,373.22 L70.60,374.11 L70.90,375.01 L71.20,375.90 L71.50,376.83 L71.80,377.84 L72.10,378.92 L72.40,380.07 L72.70,381.24 L73.00,382.43 L73.30,383.61 L73.60,384.75 L73.90,385.84 L74.20,386.87 L75.69,391.07 L77.13,393.86 L78.67,397.50 L79.77,399.33 L81.12,400.07 L82.24,400.34 L83.98,402.85 L85.01,402.87 L86.68,405.54 L87.72,406.69 L89.28,405.82 L90.54,406.16 L91.86,406.74 L93.55,409.79 L94.54,409.26 L95.57,410.64 L97.32,409.32 L98.73,410.09 L99.79,412.57 L101.59,413.58 L103.37,411.20 L104.44,411.73 L105.78,414.92 L106.87,416.13 L108.12,414.70 L109.62,415.44 L110.74,415.01 L112.30,418.09 L113.32,418.74 L114.45,418.40 L116.11,418.45 L117.43,418.54 L118.76,420.96 L120.24,419.46 L121.62,420.70 L122.93,420.40 L123.93,422.09 L125.52,421.04 L127.31,422.13 L129.11,422.64 L130.65,424.03 L131.93,421.78 L133.22,423.35 L134.78,423.94 L136.32,425.76 L137.40,424.13 L138.57,425.23 L139.86,424.41 L141.27,426.46 L142.93,425.89 L144.33,425.26 L145.33,426.24 L147.00,425.91 L148.35,426.88 L149.76,426.42 L150.93,427.72 L152.27,426.22 L153.57,428.16 L155.20,427.48 L156.27,429.50 L157.71,427.39 L158.84,428.37 L160.40,425.93 L161.41,429.70 L162.63,429.24 L163.90,429.93 L165.41,427.61 L166.43,429.64 L167.80,431.04 L168.96,429.88 L170.17,430.53 L171.55,428.61 L173.34,431.04 L174.72,429.89 L176.50,430.55 L177.63,429.44 L179.38,431.31 L180.67,429.56 L181.81,430.47 L183.42,431.75 L185.16,432.15 L186.00,430.80" fill="none" stroke="#1e22ec" stroke-width="1.2" stroke-linejoin="round"/>
<path d="M55.30,432.70 L55.60,432.54 L55.90,432.40 L56.20,432.26 L56.50,432.11 L56.80,431.95 L57.10,431.77 L57.40,431.57 L57.70,431.33 L58.00,431.04 L58.30,430.66 L58.60,430.24 L58.90,429.78 L59.20,429.23 L59.50,428.53 L59.80,427.62 L60.10,426.44 L60.40,424.98 L60.70,423.19 L61.00,421.14 L61.30,418.86 L61.60,416.40 L61.90,413.86 L62.20,411.19 L62.50,408.23 L62.80,405.06 L63.10,401.87 L63.40,398.80 L63.70,396.00 L64.00,393.37 L64.30,390.77 L64.60,388.29 L64.90,386.05 L65.20,384.11 L65.50,382.50 L65.80,381.13 L66.10,379.91 L66.40,378.93 L66.70,378.26 L67.00,377.86 L67.30,377.69 L67.60,377.70 L67.90,377.89 L68.20,378.22 L68.50,378.65 L68.80,379.14 L69.10,379.68 L69.40,380.27 L69.70,380.88 L70.00,381.53 L70.30,382.18 L70.60,382.85 L70.90,383.52 L71.20,384.18 L71.50,384.86 L71.80,385.57 L72.10,386.33 L72.40,387.13 L72.70,387.95 L73.00,388.78 L73.30,389.61 L73.60,390.42 L73.90,391.22 L74.20,391.97 L75.29,394.58 L76.72,397.31 L77.88,399.89 L79.10,400.76 L80.45,403.07 L82.13,404.47 L83.62,407.33 L84.61,406.27 L85.82,407.77 L86.93,407.13 L88.64,410.00 L90.30,409.07 L91.96,411.12 L93.63,411.16 L95.24,412.76 L97.01,410.99 L98.66,411.98 L99.86,415.06 L101.55,415.12 L102.94,413.53 L104.55,415.33 L106.01,415.74 L107.35,416.96 L108.63,415.36 L109.97,417.27 L111.22,418.74 L112.30,418.10 L113.97,418.54 L115.62,418.50 L117.42,420.85 L118.98,420.84 L120.43,421.14 L122.04,421.21 L123.13,423.23 L124.68,424.08 L126.03,422.26 L127.16,424.19 L128.31,423.23 L129.73,424.87 L130.92,423.75 L132.29,423.87 L133.78,425.86 L135.09,425.20 L136.18,426.68 L137.57,424.43 L138.75,426.43 L139.93,425.39 L141.07,427.46 L142.36,427.17 L143.40,426.28 L144.93,426.44 L146.71,428.07 L148.02,426.90 L149.60,428.07 L151.36,427.94 L152.38,429.16 L153.48,429.12 L155.14,427.81 L156.82,427.84 L158.34,429.55 L159.45,428.74 L160.78,429.28 L162.49,430.41 L164.21,428.63 L165.87,430.29 L167.02,429.71 L168.71,431.18 L170.01,430.24 L171.59,431.02 L172.69,430.32 L174.48,431.29 L175.97,429.70 L177.56,431.78 L178.71,430.92 L180.21,431.46 L181.68,429.56 L183.16,431.57 L184.44,432.76 L186.00,430.56" fill="none" stroke="#66a03f" stroke-width="1.2" stroke-linejoin="round"/>
<path d="M55.30,432.70 L55.60,432.62 L55.90,432.55 L56.20,432.48 L56.50,432.41 L56.80,432.34 L57.10,432.26 L57.40,432.19 L57.70,432.11 L58.00,432.03 L58.30,431.94 L58.60,431.85 L58.90,431.74 L59.20,431.63 L59.50,431.50 L59.80,431.36 L60.10,431.23 L60.40,431.10 L60.70,430.95 L61.00,430.76 L61.30,430.51 L61.60,430.17 L61.90,429.73 L62.20,429.21 L62.50,428.64 L62.80,428.01 L63.10,427.33 L63.40,426.58 L63.70,425.75 L64.00,424.85 L64.30,423.86 L64.60,422.77 L64.90,421.56 L65.20,420.18 L65.50,418.63 L65.80,416.96 L66.10,415.22 L66.40,413.47 L66.70,411.77 L67.00,410.15 L67.30,408.67 L67.60,407.40 L67.90,406.25 L68.20,405.11 L68.50,404.05 L68.80,403.11 L69.10,402.35 L69.40,401.79 L69.70,401.39 L70.00,401.14 L70.30,401.00 L70.60,401.00 L70.90,401.09 L71.20,401.24 L71.50,401.46 L71.80,401.73 L72.10,402.02 L72.40,402.35 L72.70,402.71 L73.00,403.08 L73.30,403.47 L73.60,403.86 L73.90,404.26 L74.20,404.67 L74.50,405.07 L74.80,405.47 L75.10,405.88 L75.40,406.30 L75.70,406.77 L76.00,407.27 L76.30,407.74 L77.85,410.71 L79.17,412.53 L80.80,414.17 L81.88,414.95 L83.05,415.30 L84.79,416.98 L86.07,416.99 L87.26,418.14 L88.92,419.13 L90.43,418.07 L91.54,419.21 L92.98,419.52 L94.52,420.29 L95.64,420.82 L97.16,419.15 L98.25,420.62 L99.51,420.57 L100.56,421.97 L101.71,420.74 L103.51,421.59 L104.83,421.14 L106.64,423.21 L107.99,422.00 L109.48,422.54 L111.20,422.74 L112.75,423.78 L113.83,422.85 L115.30,424.99 L116.81,423.97 L117.95,424.68 L119.01,423.23 L120.72,423.73 L122.13,426.43 L123.27,426.45 L124.63,424.37 L125.80,425.79 L127.45,426.16 L128.85,425.92 L129.92,426.25 L131.58,426.12 L132.64,427.21 L133.85,425.90 L134.86,426.63 L136.46,425.25 L137.53,427.83 L138.96,427.97 L140.01,427.70 L141.40,426.67 L142.95,426.79 L144.38,428.46 L145.75,427.17 L147.13,428.82 L148.48,430.05 L149.96,428.35 L151.02,429.34 L152.40,427.36 L153.58,429.45 L155.28,429.25 L157.05,430.30 L158.09,429.93 L159.19,429.37 L160.76,429.31 L162.22,430.24 L163.22,429.43 L164.79,431.02 L166.56,430.98 L167.90,429.11 L169.17,430.23 L170.63,430.11 L172.39,431.56 L173.60,430.03 L174.83,431.19 L175.97,430.67 L177.48,431.75 L178.85,429.97 L180.05,431.40 L181.35,430.63 L182.36,430.90 L183.60,431.67 L185.41,430.24 L186.00,432.14" fill="none" stroke="#f09a3c" stroke-width="1.2" stroke-linejoin="round"/>
<rect x="0.6" y="0.6" width="518.8" height="489.8" fill="none" stroke="#000" stroke-width="1.6"/>
</svg>
</body></html>
